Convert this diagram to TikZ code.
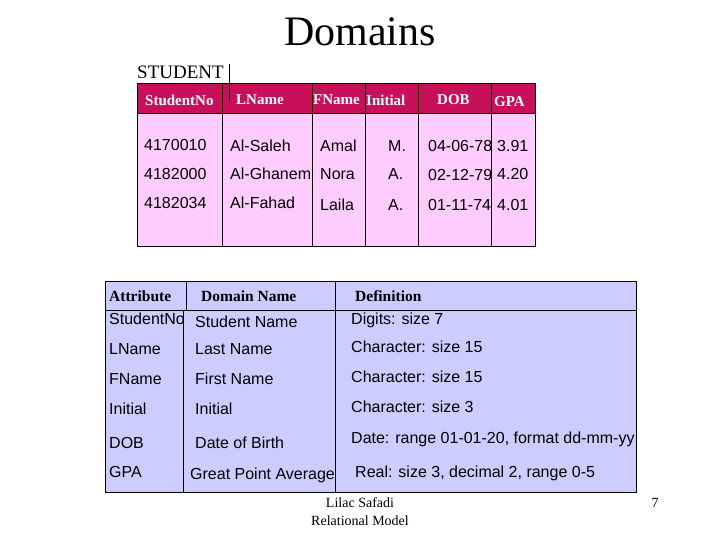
\documentclass[tikz,border=0pt]{standalone}
\usepackage{fontspec}
\setmainfont{Liberation Serif}
\newfontfamily\sa{Liberation Sans}
\begin{document}
\begin{tikzpicture}[x=1pt,y=-1pt,
  hd/.style={font=\bfseries\fontsize{15}{17}\selectfont,text=white,anchor=west,inner sep=0},
  dt/.style={font=\sa\fontsize{16}{18}\selectfont,anchor=west,inner sep=0},
  bh/.style={font=\bfseries\fontsize{15.5}{17}\selectfont,anchor=west,inner sep=0}]
\useasboundingbox (0,0) rectangle (720,540);
\definecolor{crim}{HTML}{C8105A}
\definecolor{pinkb}{HTML}{FFCCFF}
\definecolor{lav}{HTML}{CCCCFF}
\node[font=\fontsize{42}{46}\selectfont] (title) at (360,32) {Domains};
\node[anchor=west,inner sep=0,font=\fontsize{19}{21}\selectfont] (stu) at (137,72) {STUDENT};
% top table
\fill[pinkb] (137,83) rectangle (535,246);
\fill[crim] (137,83) rectangle (535,113);
\foreach \x in {222,312,365,418,491} \draw[black] (\x,83) -- (\x,246);
\draw (137,113) -- (535,113);
\draw (137,83) rectangle (535,246);
\draw (229,64) -- (229,100);
\node[hd] at (145,100) {StudentNo};
\node[hd] at (236,100) {LName};
\node[hd] at (313,100) {FName};
\node[hd] at (366,100) {Initial};
\node[hd] at (437,100) {DOB};
\node[hd] at (494,102) {GPA};
\node[dt] at (144,145) {4170010};
\node[dt] at (230,146) {Al-Saleh};
\node[dt] at (320,146) {Amal};
\node[dt] at (388,146) {M.};
\node[dt] at (428,146) {04-06-78};
\node[dt] at (497,146) {3.91};
\node[dt] at (144,174) {4182000};
\node[dt] at (230,174) {Al-Ghanem};
\node[dt] at (320,174) {Nora};
\node[dt] at (388,174) {A.};
\node[dt] at (428,175) {02-12-79};
\node[dt] at (497,174) {4.20};
\node[dt] at (144,203) {4182034};
\node[dt] at (230,203) {Al-Fahad};
\node[dt] at (320,205) {Laila};
\node[dt] at (388,205) {A.};
\node[dt] at (428,205) {01-11-74};
\node[dt] at (497,205) {4.01};
% bottom table
\fill[lav] (105,281) rectangle (636,492);
\draw (105,281) rectangle (636,492);
\draw (105,310) -- (636,310);
\draw (186,281) -- (186,310);
\draw (183,310) -- (183,492);
\draw (335,281) -- (335,492);
\node[bh] at (109,296) {Attribute};
\node[bh] at (201,296) {Domain Name};
\node[bh] at (355,296) {Definition};
\node[dt] at (109,319) {StudentNo};
\node[dt] at (195,322) {Student Name};
\node[dt] at (351,320) {Digits: size 7};
\node[dt] at (109,349) {LName};
\node[dt] at (195,349) {Last Name};
\node[dt] at (351,347) {Character: size 15};
\node[dt] at (109,379) {FName};
\node[dt] at (195,379) {First Name};
\node[dt] at (351,377) {Character: size 15};
\node[dt] at (109,409) {Initial};
\node[dt] at (195,409) {Initial};
\node[dt] at (351,407) {Character: size 3};
\node[dt] at (109,443) {DOB};
\node[dt] at (195,443) {Date of Birth};
\node[dt] at (351,439) {Date: range 01-01-20, format dd-mm-yy};
\node[dt] at (109,472) {GPA};
\node[dt] at (190,475) {Great Point Average};
\node[dt] at (355,473) {Real: size 3, decimal 2, range 0-5};
% footer
\node[font=\fontsize{14}{18}\selectfont,align=center,inner sep=0] (foot) at (360,512) {Lilac Safadi\\Relational Model};
\node[font=\fontsize{14}{16}\selectfont,inner sep=0] (pg) at (655,503) {7};
\end{tikzpicture}
\end{document}
